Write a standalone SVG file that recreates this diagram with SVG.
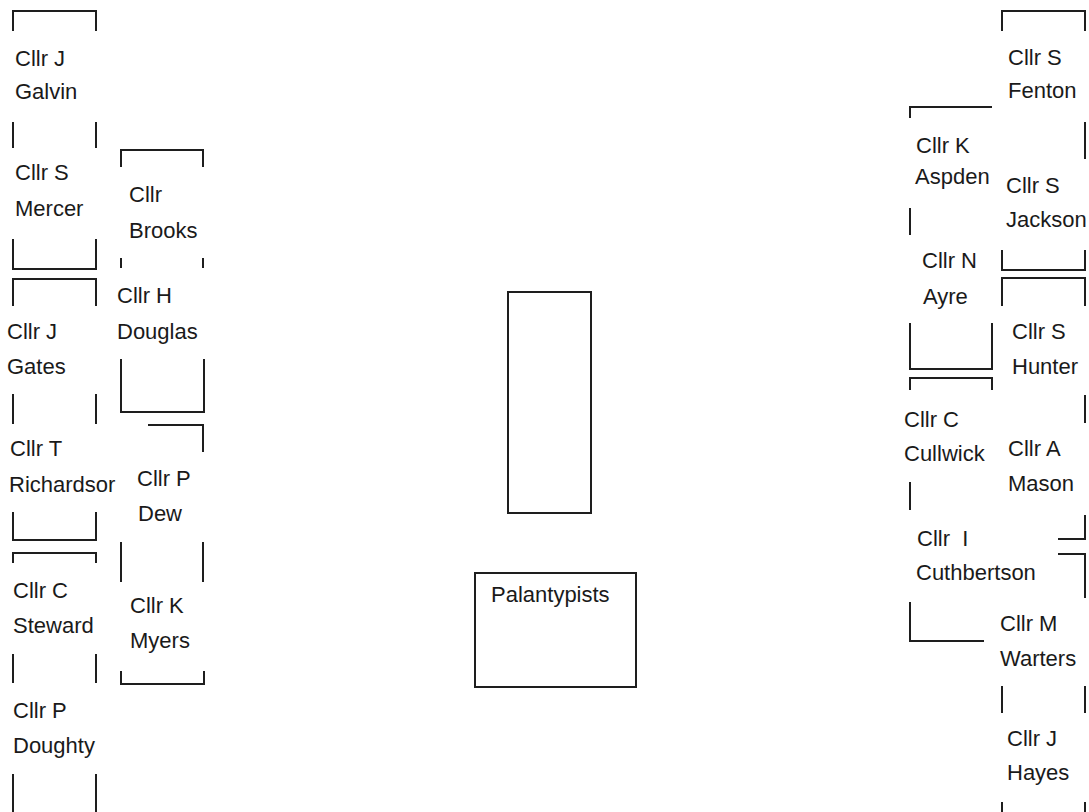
<svg xmlns="http://www.w3.org/2000/svg" width="1089" height="812" viewBox="0 0 1089 812">
<style>
.l{fill:none;stroke:#1e1e1e;stroke-width:2}
text{font-family:"Liberation Sans",Arial,sans-serif;font-size:22px;fill:#1a1a1a;white-space:pre}
</style>
<defs>
<clipPath id="clipAsp"><rect x="900" y="150" width="90" height="50"/></clipPath>
</defs>
<rect width="1089" height="812" fill="#fff"/>
<g id="galvin">
<polyline class="l" points="13,31 13,11 96,11 96,31"/>
<text x="15" y="66">Cllr J</text><text x="15" y="99">Galvin</text>
<path class="l" d="M13,122V148M96,122V148"/>
</g>
<g id="mercer">
<text x="15" y="180">Cllr S</text><text x="15" y="216">Mercer</text>
<polyline class="l" points="13,239 13,269 96,269 96,239"/>
</g>
<g id="gates">
<polyline class="l" points="13,306 13,279 96,279 96,306"/>
<text x="7" y="339">Cllr J</text><text x="7" y="374">Gates</text>
<path class="l" d="M13,394V424M96,394V424"/>
</g>
<g id="richardson">
<text x="10" y="456">Cllr T</text><text x="9" y="492">Richardsor</text>
<polyline class="l" points="13,512 13,540 96,540 96,512"/>
</g>
<g id="steward">
<polyline class="l" points="13,563 13,553 96,553 96,563"/>
<text x="13" y="598">Cllr C</text><text x="13" y="633">Steward</text>
<path class="l" d="M13,654V683M96,654V683"/>
</g>
<g id="doughty">
<text x="13" y="718">Cllr P</text><text x="13" y="753">Doughty</text>
<path class="l" d="M13,774V812M96,774V812"/>
</g>
<g id="brooks">
<polyline class="l" points="121,167 121,150 203,150 203,167"/>
<text x="129" y="202">Cllr</text><text x="129" y="238">Brooks</text>
<path class="l" d="M121,258V268M203,258V268"/>
</g>
<g id="douglas">
<text x="117" y="303">Cllr H</text><text x="117" y="339">Douglas</text>
<polyline class="l" points="121,359 121,412 204,412 204,359"/>
</g>
<g id="dew">
<polyline class="l" points="148,425 203,425 203,452"/>
<text x="137" y="486">Cllr P</text><text x="138" y="521">Dew</text>
<path class="l" d="M121,542V582M203,542V582"/>
</g>
<g id="myers">
<text x="130" y="613">Cllr K</text><text x="130" y="648">Myers</text>
<polyline class="l" points="121,671 121,684 204,684 204,671"/>
</g>
<g id="table">
<rect class="l" x="508" y="292" width="83" height="221"/>
</g>
<g id="palantypists">
<rect class="l" x="475" y="573" width="161" height="114"/>
<text x="491" y="602">Palantypists</text>
</g>
<g id="fenton">
<polyline class="l" points="1002,31 1002,11 1085,11 1085,31"/>
<text x="1008" y="65">Cllr S</text><text x="1008" y="98">Fenton</text>
<path class="l" d="M1085,122V159"/>
</g>
<g id="jackson">
<text x="1006" y="193">Cllr S</text><text x="1006" y="227">Jackson</text>
<polyline class="l" points="1002,250 1002,270 1085,270 1085,250"/>
</g>
<g id="aspden">
<polyline class="l" points="910,118 910,107 992,107"/>
<text x="916" y="153">Cllr K</text><text x="915" y="184" clip-path="url(#clipAsp)">Aspden</text>
<path class="l" d="M910,208V235"/>
</g>
<g id="ayre">
<text x="922" y="268">Cllr N</text><text x="923" y="304">Ayre</text>
<polyline class="l" points="910,323 910,369 992,369 992,323"/>
</g>
<g id="hunter">
<polyline class="l" points="1002,306 1002,278 1085,278 1085,306"/>
<text x="1012" y="339">Cllr S</text><text x="1012" y="374">Hunter</text>
<path class="l" d="M1085,395V423"/>
</g>
<g id="mason">
<text x="1008" y="456">Cllr A</text><text x="1008" y="491">Mason</text>
<polyline class="l" points="1085,515 1085,539 1058,539"/>
</g>
<g id="cullwick">
<polyline class="l" points="910,390 910,378 992,378 992,390"/>
<text x="904" y="427">Cllr C</text><text x="904" y="461">Cullwick</text>
<path class="l" d="M910,482V510"/>
</g>
<g id="cuthbertson">
<text x="917" y="546">Cllr  I</text><text x="916" y="580">Cuthbertson</text>
<polyline class="l" points="910,602 910,641 984,641"/>
</g>
<g id="warters">
<polyline class="l" points="1058,554 1085,554 1085,598"/>
<text x="1000" y="631">Cllr M</text><text x="1000" y="666">Warters</text>
<path class="l" d="M1002,686V713M1085,686V713"/>
</g>
<g id="hayes">
<text x="1007" y="746">Cllr J</text><text x="1007" y="780">Hayes</text>
<path class="l" d="M1002,802V812M1085,802V812"/>
</g>
<g id="connectors"></g>
</svg>
